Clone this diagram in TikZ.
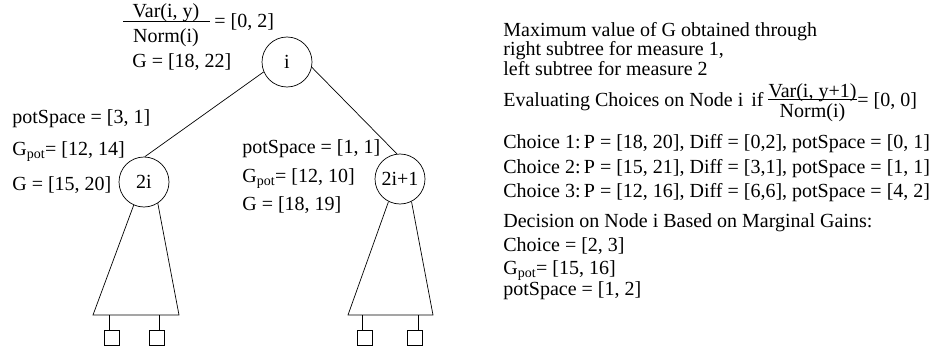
\documentclass[tikz,border=0pt]{standalone}
\usepackage{fontspec}
\setmainfont{Liberation Serif}
\begin{document}
\begin{tikzpicture}[x=1pt,y=-1pt, line width=0.7pt,
  lbl/.style={anchor=base west, inner sep=0pt, font=\fontsize{20}{20}\selectfont},
  ctr/.style={anchor=base, inner sep=0pt, font=\fontsize{20}{20}\selectfont},
  tnode/.style={draw, circle, minimum size=50pt, inner sep=0pt, font=\fontsize{20}{20}\selectfont},
  leaf/.style={draw, rectangle, minimum size=15pt, inner sep=0pt}]
\useasboundingbox (0,0) rectangle (939,353);
% tree nodes
\node[tnode] (i) at (287,62) {i};
\node[tnode] (n2i) at (144,182) {2i};
\node[tnode] (n2i1) at (400,179) {2i+1};
\draw (i.-157) -- (n2i.88);
\draw (i.-12) -- (n2i1.97);
% left subtree
\coordinate (bl1) at (93,315);
\coordinate (br1) at (179,315);
\draw (n2i.-114) -- (bl1) -- (br1) -- (n2i.-57);
\coordinate (s1) at (109,315);
\coordinate (s2) at (159,315);
\node[leaf] (q1) at (111.5,337.5) {};
\node[leaf] (q2) at (157,337.5) {};
\draw (s1) -- (s1 |- q1.north);
\draw (s2) -- (s2 |- q2.north);
% right subtree
\coordinate (bl2) at (348,315);
\coordinate (br2) at (433,315);
\draw (n2i1.-117) -- (bl2) -- (br2) -- (n2i1.-63);
\coordinate (s3) at (362,315);
\coordinate (s4) at (418,315);
\node[leaf] (q3) at (364.5,337.5) {};
\node[leaf] (q4) at (415,337.5) {};
\draw (s3) -- (s3 |- q3.north);
\draw (s4) -- (s4 |- q4.north);
% labels of node i
\node[ctr] (numL) at (166,18) {Var(i, y)};
\node[ctr] (denL) at (166,43) {Norm(i)};
\draw (123,21) -- (210,21);
\node[lbl] (eqL) at (214,28) {= [0, 2]};
\node[lbl] (Gi) at (132,67) {G = [18, 22]};
% labels of node 2i
\node[lbl] (ps2i) at (12,123) {potSpace = [3, 1]};
\node[lbl] (gp2i) at (12,155) {G\textsubscript{pot}= [12, 14]};
\node[lbl] (g2i) at (12,190) {G = [15, 20]};
% labels of node 2i+1
\node[lbl] (ps2i1) at (242,153) {potSpace = [1, 1]};
\node[lbl] (gp2i1) at (242,182) {G\textsubscript{pot}= [12, 10]};
\node[lbl] (g2i1) at (242,210) {G = [18, 19]};
% right column
\node[lbl] (r1) at (503,37) {Maximum value of G obtained through};
\node[lbl] (r2) at (503,56) {right subtree for measure 1,};
\node[lbl] (r3) at (503,75) {left subtree for measure 2};
\node[lbl] (ev) at (503,106) {Evaluating Choices on Node i};
\node[lbl] (if) at (751,106) {if};
\node[ctr] (numR) at (812.5,97) {Var(i, y+1)};
\node[ctr] (denR) at (812.5,117) {Norm(i)};
\draw (768,99) -- (857,99);
\node[lbl] (eqR) at (857,106) {= [0, 0]};
\node[lbl] (c1) at (503,148) {Choice 1:\,P = [18, 20], Diff = [0,2], potSpace = [0, 1]};
\node[lbl] (c2) at (503,173) {Choice 2:\,P = [15, 21], Diff = [3,1], potSpace = [1, 1]};
\node[lbl] (c3) at (503,197) {Choice 3:\,P = [12, 16], Diff = [6,6], potSpace = [4, 2]};
\node[lbl] (dec) at (503,227) {Decision on Node i Based on Marginal Gains:};
\node[lbl] (ch) at (503,251) {Choice = [2, 3]};
\node[lbl] (gp) at (503,274) {G\textsubscript{pot}= [15, 16]};
\node[lbl] (ps) at (503,295) {potSpace = [1, 2]};
\end{tikzpicture}
\end{document}
